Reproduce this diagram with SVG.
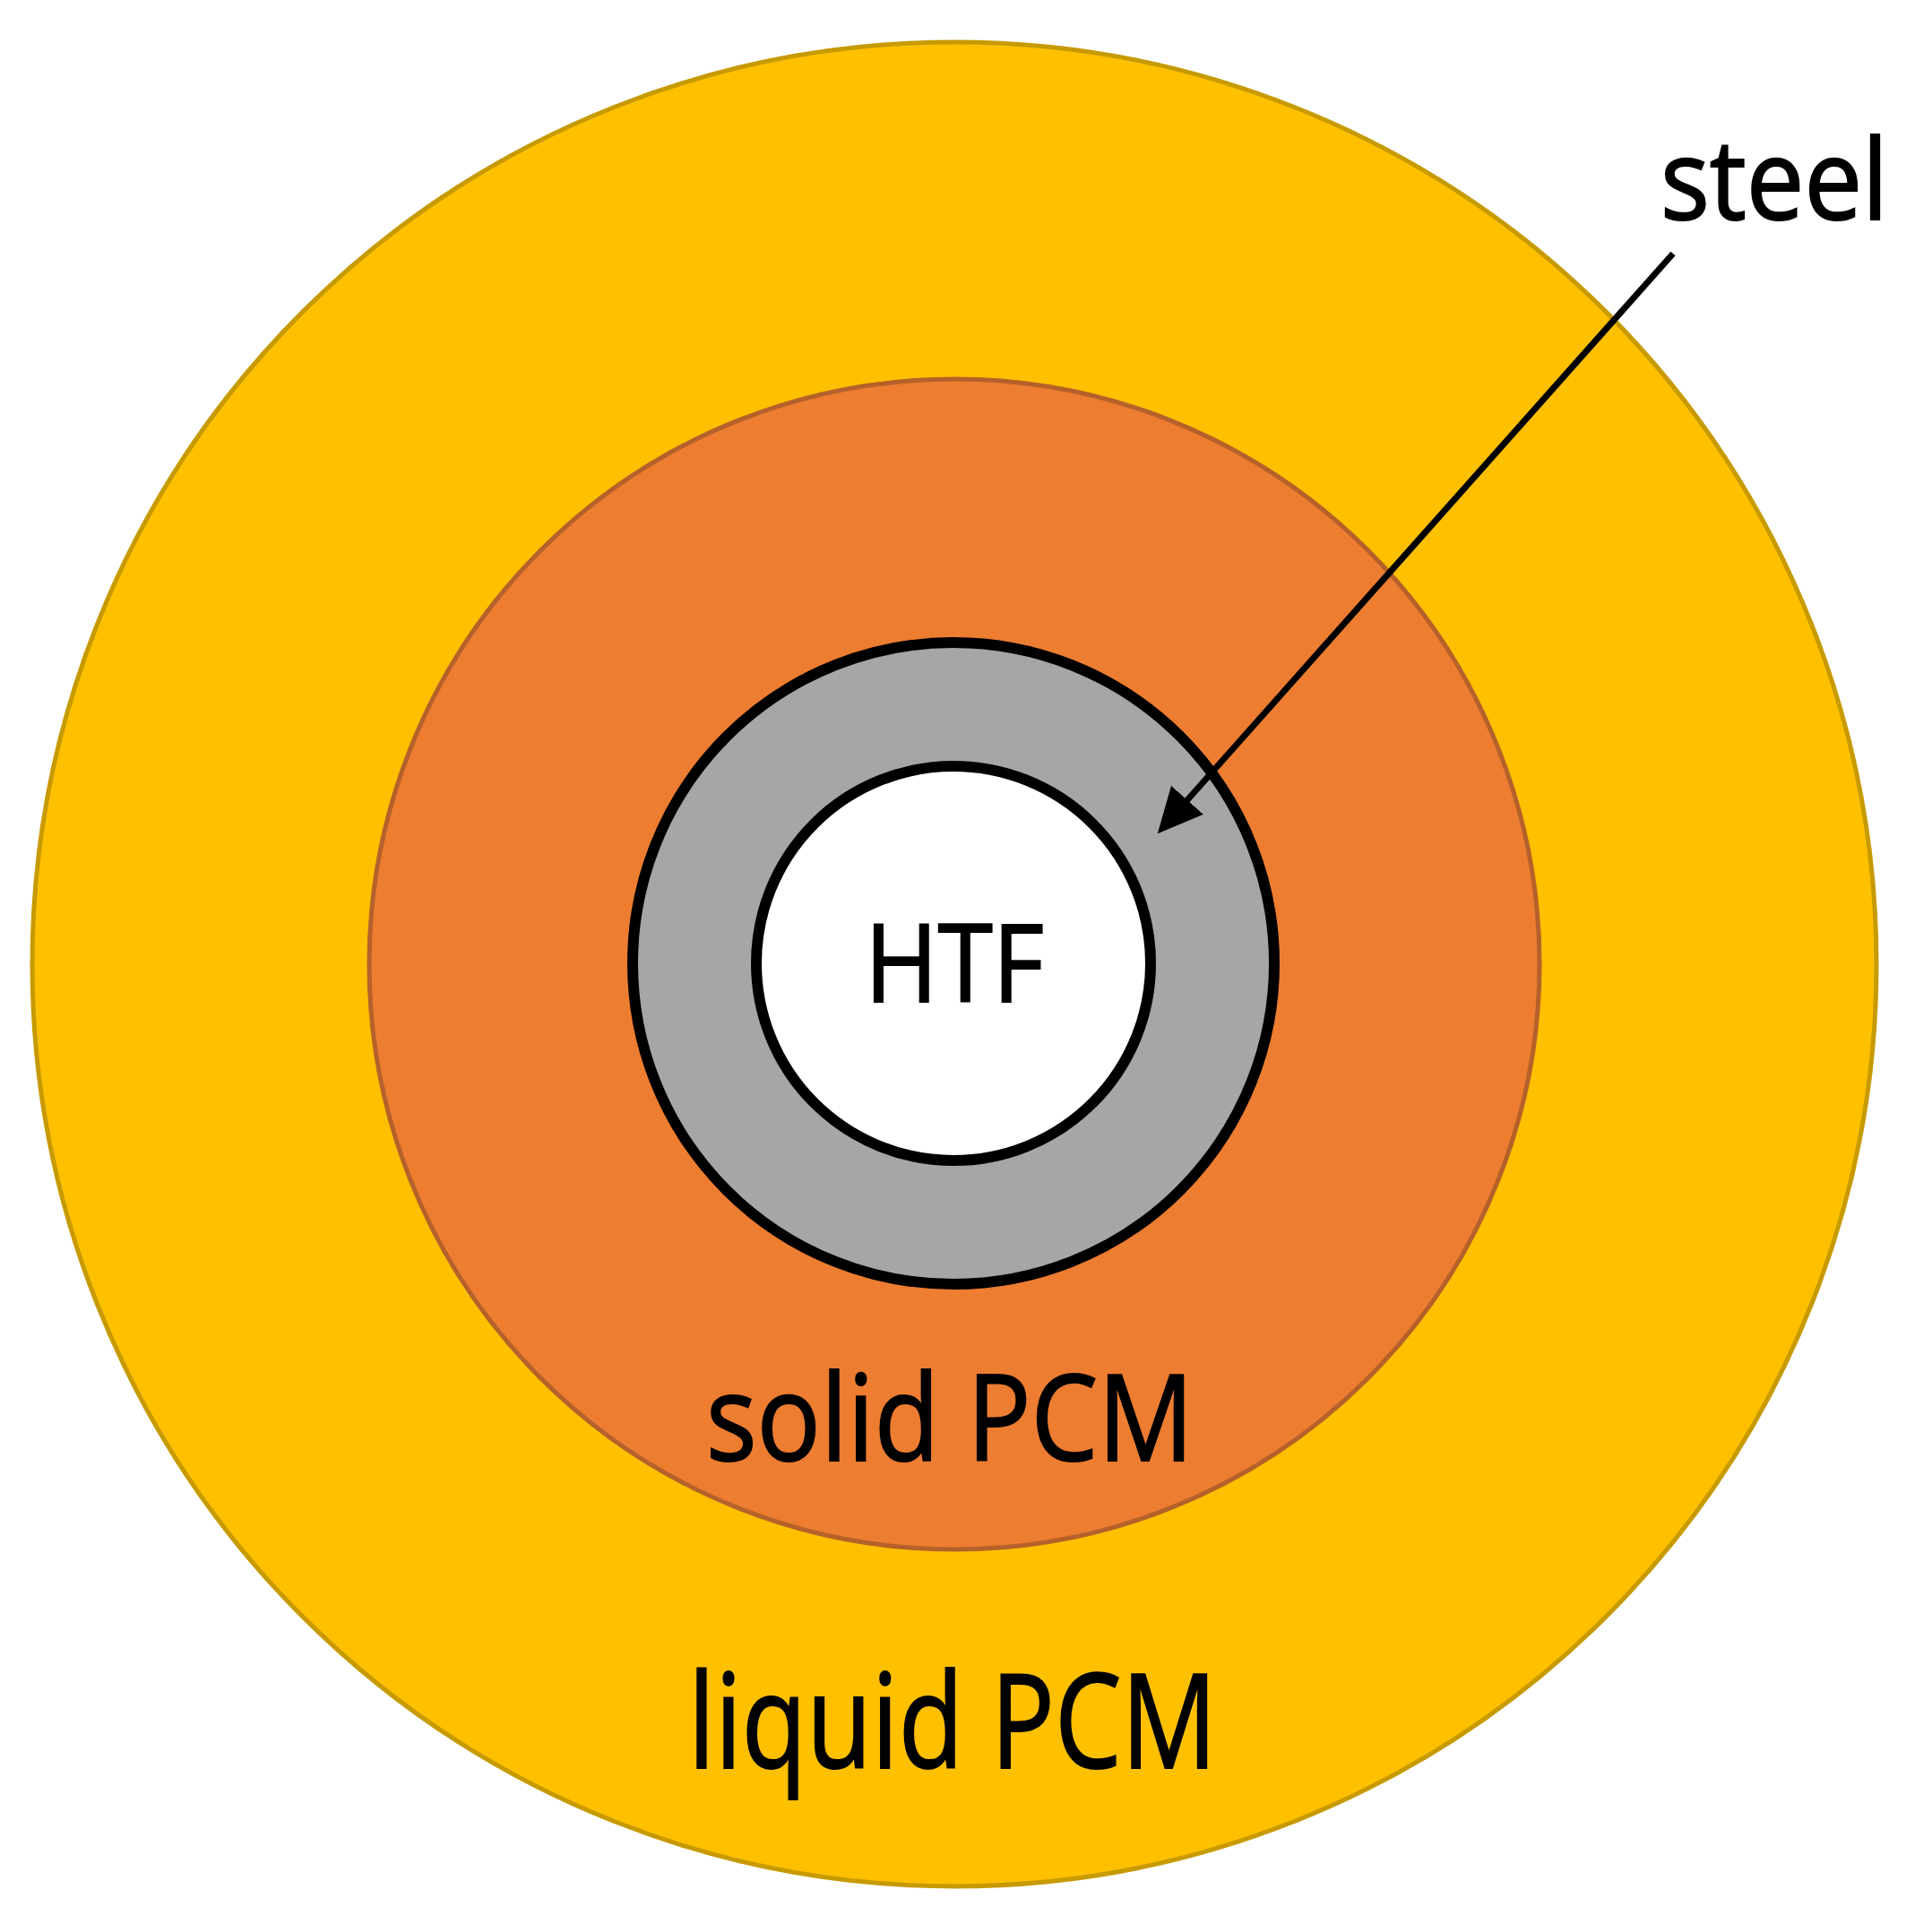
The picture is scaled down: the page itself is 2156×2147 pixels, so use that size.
<svg xmlns="http://www.w3.org/2000/svg" width="2156" height="2147" viewBox="0 0 2156 2147">
  <style>
    .lbl { font-family: "Open Sans", "Noto Sans", "DejaVu Sans", sans-serif; fill: #000; stroke: #000; stroke-width: 2; }
  </style>
  <defs>
    <marker id="arrowhead" markerUnits="userSpaceOnUse" viewBox="0 0 50 48" refX="3" refY="24" markerWidth="50" markerHeight="48" orient="auto">
      <path d="M0,0 L50,24 L0,48 Z" fill="#000"/>
    </marker>
  </defs>
  <rect width="2156" height="2147" fill="#fff"/>
  <g id="liquid-pcm">
    <circle cx="1065" cy="1076" r="1029" fill="#FFC000" stroke="#C79A00" stroke-width="5"/>
    <text class="lbl" x="1063" y="1973" font-size="147" text-anchor="middle" textLength="590" lengthAdjust="spacingAndGlyphs">liquid PCM</text>
  </g>
  <g id="solid-pcm">
    <circle cx="1065" cy="1076" r="653" fill="#ED7D31" stroke="#B5612A" stroke-width="5"/>
    <text class="lbl" x="1060" y="1630" font-size="133" text-anchor="middle" textLength="544" lengthAdjust="spacingAndGlyphs">solid PCM</text>
  </g>
  <g id="steel">
    <circle cx="1064" cy="1075" r="358" fill="#A6A6A6" stroke="#000" stroke-width="12"/>
    <text class="lbl" x="1853" y="245" font-size="124" textLength="254" lengthAdjust="spacingAndGlyphs">steel</text>
  </g>
  <g id="htf">
    <circle cx="1064" cy="1075" r="220" fill="#fff" stroke="#000" stroke-width="12"/>
    <text class="lbl" x="1065" y="1118" font-size="120" text-anchor="middle" textLength="200" lengthAdjust="spacingAndGlyphs">HTF</text>
  </g>
  <g id="connectors">
    <line x1="1867" y1="283" x2="1323" y2="895" stroke="#000" stroke-width="7" marker-end="url(#arrowhead)"/>
  </g>
</svg>
